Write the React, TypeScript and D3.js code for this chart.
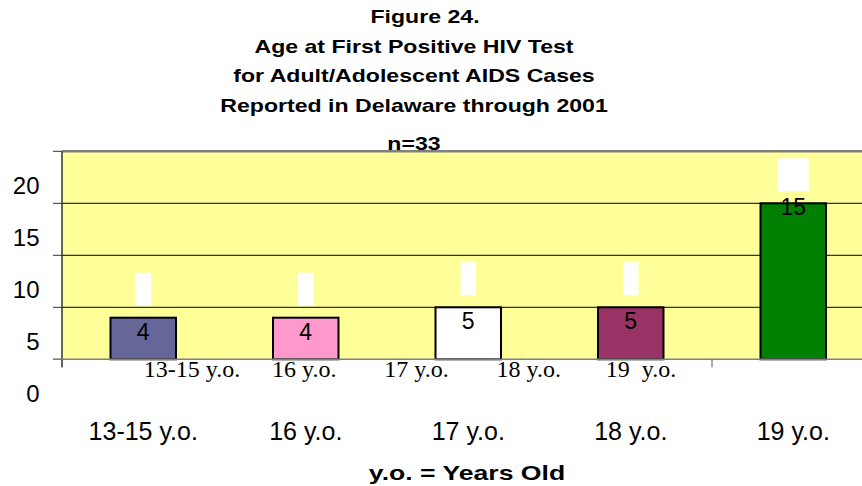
import React from "react";
import * as d3 from "d3";

const categories = ["13-15 y.o.", "16 y.o.", "17 y.o.", "18 y.o.", "19 y.o."];
const innerLabels = ["13-15 y.o.", "16 y.o.", "17 y.o.", "18 y.o.", "19  y.o."];
const values = [4, 4, 5, 5, 15];
const barColors = ["#666699", "#FF99CC", "#FFFFFF", "#993366", "#008000"];
const yTicks = [0, 5, 10, 15, 20];
const gridValues = [5, 10, 15];
const titleLines = [
  "Figure 24.",
  "Age at First Positive HIV Test",
  "for Adult/Adolescent AIDS Cases",
  "Reported in Delaware through 2001",
];
const subtitle = "n=33";
const xAxisTitle = "y.o. = Years Old";

const W = 862;
const H = 486;
const plotLeft = 62;
const plotTop = 151.3;
const plotBottom = 359.3;
const step = 162.5;
const plotRight = plotLeft + step * categories.length;
const sans = "'Liberation Sans', Arial, sans-serif";
const serif = "'Liberation Serif', 'Times New Roman', serif";

export default function App() {
  const x = d3.scaleBand<string>().domain(categories).range([plotLeft, plotRight]).padding(0);
  const y = d3.scaleLinear().domain([0, 20]).range([plotBottom, plotTop]);
  const yLabel = d3.scaleLinear().domain([0, 20]).range([377.5, 150.5]);
  const innerX = d3.scalePoint<string>().domain(categories).range([192, 641]);
  const barW = x.bandwidth() * 0.403;
  const cx = (c: string) => (x(c) as number) + x.bandwidth() / 2;
  const titleX = 414;

  return (
    <svg
      width={W}
      height={H}
      style={{ position: "absolute", left: 0, top: 0, background: "#fff" }}
    >
      {titleLines.map((t, i) => (
        <text
          key={t}
          transform={`translate(${titleX + (i === 0 ? 11 : 0)},${23 + i * 29.5}) scale(1.32,1)`}
          textAnchor="middle"
          fontFamily={sans}
          fontWeight="bold"
          fontSize={17.5}
          fill="#000"
        >
          {t}
        </text>
      ))}
      <text
        transform={`translate(${titleX},150) scale(1.32,1)`}
        textAnchor="middle"
        fontFamily={sans}
        fontWeight="bold"
        fontSize={17.5}
        fill="#000"
      >
        {subtitle}
      </text>

      {/* plot area */}
      <rect x={plotLeft} y={plotTop} width={plotRight - plotLeft} height={plotBottom - plotTop} fill="#FFFF99" />
      <line x1={plotLeft} x2={plotRight} y1={plotTop} y2={plotTop} stroke="#808080" strokeWidth={2.5} />
      {gridValues.map((v) => (
        <line key={v} x1={plotLeft} x2={plotRight} y1={y(v)} y2={y(v)} stroke="#000" strokeWidth={1} />
      ))}

      {/* y axis */}
      <line x1={plotLeft} x2={plotLeft} y1={plotTop} y2={plotBottom + 8} stroke="#333" strokeWidth={1.5} />
      {yTicks.map((v) => (
        <line key={"t" + v} x1={plotLeft - 9} x2={plotLeft} y1={y(v)} y2={y(v)} stroke="#333" strokeWidth={1} />
      ))}
      {yTicks.map((v) => (
        <text
          key={"l" + v}
          x={39.5}
          y={y(v) + 34 + 8.6}
          textAnchor="end"
          fontFamily={sans}
          fontSize={24}
          fill="#000"
        >
          {v}
        </text>
      ))}

      {/* bars */}
      {categories.map((c, i) => (
        <rect
          key={c}
          x={cx(c) - barW / 2}
          y={y(values[i])}
          width={barW}
          height={plotBottom - y(values[i])}
          fill={barColors[i]}
          stroke="#000"
          strokeWidth={2}
        />
      ))}

      {/* white label boxes */}
      {categories.map((c, i) => {
        const w = String(values[i]).length * 15.5;
        return (
          <rect key={"w" + c} x={cx(c) - w / 2} y={y(values[i]) - 12 - 33} width={w} height={33} fill="#fff" />
        );
      })}

      {/* value labels */}
      {categories.map((c, i) => (
        <text
          key={"v" + c}
          x={cx(c)}
          y={yLabel(values[i]) + 8.2}
          textAnchor="middle"
          fontFamily={sans}
          fontSize={23}
          fill="#000"
        >
          {values[i]}
        </text>
      ))}

      {/* x axis */}
      <line x1={plotLeft - 9} x2={plotRight} y1={plotBottom} y2={plotBottom} stroke="#808080" strokeWidth={1.5} />
      {[categories[0], categories[4]].map((c) => (
        <line key={"xt" + c} x1={x(c) as number} x2={x(c) as number} y1={plotBottom} y2={plotBottom + 8} stroke="#555" strokeWidth={1} />
      ))}

      {/* inner serif labels */}
      {categories.map((c, i) => (
        <text
          key={"s" + c}
          x={innerX(c) as number}
          y={376.5}
          textAnchor="middle"
          fontFamily={serif}
          fontSize={24}
          fill="#000"
          style={{ whiteSpace: "pre" }}
        >
          {innerLabels[i]}
        </text>
      ))}

      {/* bottom category labels */}
      {categories.map((c) => (
        <text key={"b" + c} x={cx(c)} y={440} textAnchor="middle" fontFamily={sans} fontSize={25} fill="#000">
          {c}
        </text>
      ))}

      <text
        transform={`translate(467,480) scale(1.33,1)`}
        textAnchor="middle"
        fontFamily={sans}
        fontWeight="bold"
        fontSize={20}
        fill="#000"
      >
        {xAxisTitle}
      </text>
    </svg>
  );
}
